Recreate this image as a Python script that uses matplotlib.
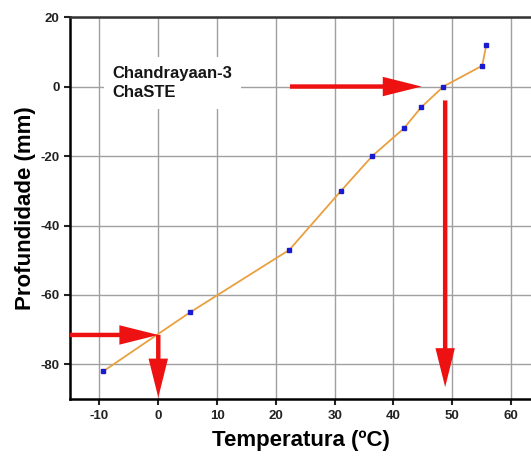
import matplotlib
matplotlib.use("Agg")
import matplotlib.pyplot as plt

plt.rcParams["font.family"] = ["Liberation Sans", "DejaVu Sans"]
plt.rcParams["axes.unicode_minus"] = False

# Temperature profile (ChaSTE probe)
temperatura = [-9.4, 5.4, 22.3, 31.1, 36.4, 41.8, 44.7, 48.5, 55.1, 55.8]
profundidade = [-82, -65, -47, -30, -20, -12, -6, 0, 6, 12]

x_ticks = [-10, 0, 10, 20, 30, 40, 50, 60]
y_ticks = [20, 0, -20, -40, -60, -80]

# red arrows: (x_start, y_start, x_end, y_end)
arrows = [
    (22.4, 0, 44.8, 0),
    (48.8, -4, 48.8, -86.5),
    (-15, -71.5, 0, -71.5),
    (0, -71.5, 0, -89.5),
]

fig = plt.figure(figsize=(5.31, 4.61), dpi=100)
ax = fig.add_axes([0.132, 0.134, 0.868, 0.829])

ax.grid(True, color="#a0a0a0", linewidth=1.0)
ax.set_axisbelow(True)

ax.plot(temperatura, profundidade, color="#e8a040", linewidth=1.3, zorder=3)
ax.plot(temperatura, profundidade, linestyle="none", marker="s", markersize=2.6,
        color="#1a1ad0", zorder=4)

for x0, y0, x1, y1 in arrows:
    ax.annotate("", xy=(x1, y1), xytext=(x0, y0),
                arrowprops=dict(arrowstyle="simple,head_length=28,head_width=14,tail_width=3.2",
                                mutation_scale=1, color="#ee1111", lw=0,
                                shrinkA=0, shrinkB=0),
                zorder=5)

ax.text(-7.8, 1.0, "Chandrayaan-3\nChaSTE", fontsize=12, fontweight="bold",
        va="center", ha="left", linespacing=1.4, color="#151515",
        bbox=dict(facecolor="white", edgecolor="none", pad=6), zorder=4)

ax.set_xlim(-15, 63.4)
ax.set_ylim(-90, 20)
ax.set_xticks(x_ticks)
ax.set_yticks(y_ticks)
ax.tick_params(labelsize=9.5, width=1.5, length=4, colors="#222222")
for lab in ax.get_xticklabels() + ax.get_yticklabels():
    lab.set_fontweight("bold")

for s in ["left", "bottom"]:
    ax.spines[s].set_linewidth(1.8)
ax.spines["top"].set_linewidth(1.8)
ax.spines["top"].set_color("#333333")
ax.spines["right"].set_visible(False)

ax.set_xlabel("Temperatura (ºC)", fontsize=16, fontweight="bold", labelpad=6)
ax.set_ylabel("Profundidade (mm)", fontsize=16, fontweight="bold", labelpad=3)

fig.savefig("out.png", dpi=100)
